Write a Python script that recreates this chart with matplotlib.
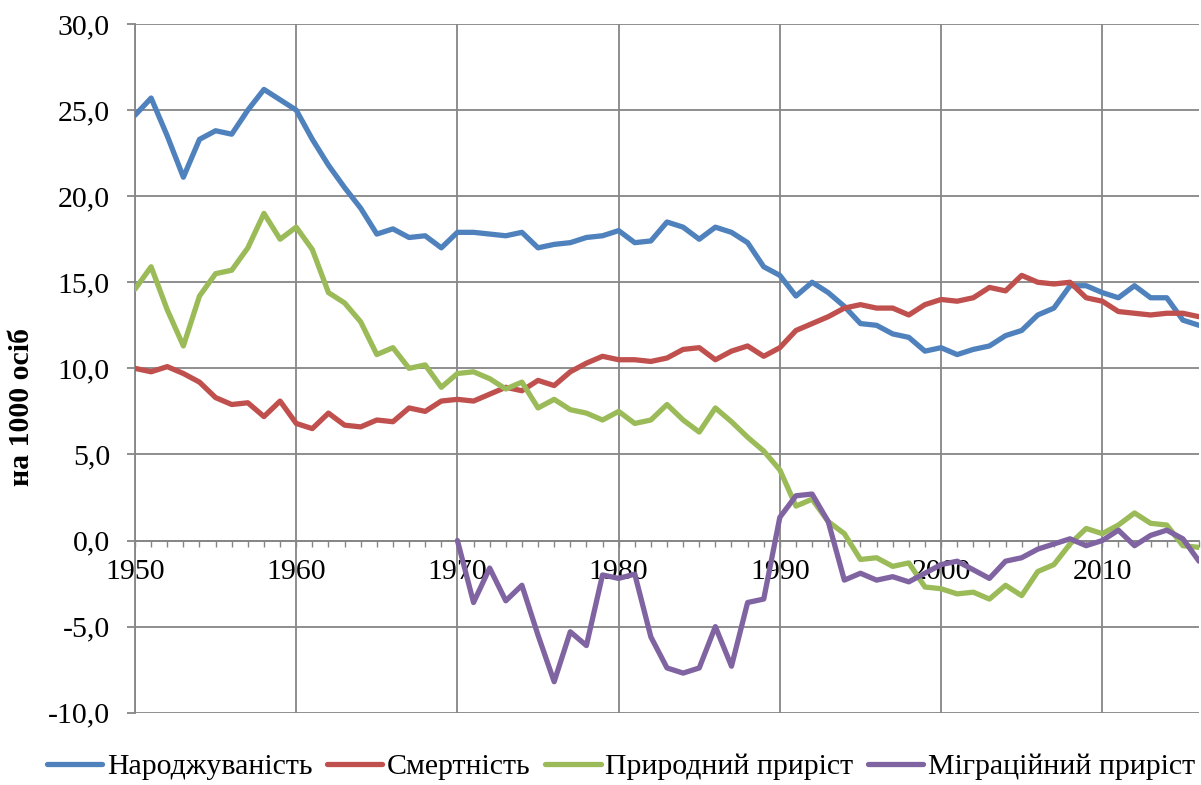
import numpy as np
import matplotlib
matplotlib.use('Agg')
import matplotlib.pyplot as plt
from matplotlib.ticker import MultipleLocator, FuncFormatter

# ── Data (per 1000 population) ─────────────────────────────────────
years = list(range(1950, 2017))

birth = [24.7, 25.7, 23.5, 21.1, 23.3, 23.8, 23.6, 25.0, 26.2, 25.6,
         25.0, 23.3, 21.8, 20.5, 19.3, 17.8, 18.1, 17.6, 17.7, 17.0,
         17.9, 17.9, 17.8, 17.7, 17.9, 17.0, 17.2, 17.3, 17.6, 17.7,
         18.0, 17.3, 17.4, 18.5, 18.2, 17.5, 18.2, 17.9, 17.3, 15.9,
         15.4, 14.2, 15.0, 14.4, 13.6, 12.6, 12.5, 12.0, 11.8, 11.0,
         11.2, 10.8, 11.1, 11.3, 11.9, 12.2, 13.1, 13.5, 14.8, 14.8,
         14.4, 14.1, 14.8, 14.1, 14.1, 12.8, 12.5]

death = [10.0, 9.8, 10.1, 9.7, 9.2, 8.3, 7.9, 8.0, 7.2, 8.1,
         6.8, 6.5, 7.4, 6.7, 6.6, 7.0, 6.9, 7.7, 7.5, 8.1,
         8.2, 8.1, 8.5, 8.9, 8.7, 9.3, 9.0, 9.8, 10.3, 10.7,
         10.5, 10.5, 10.4, 10.6, 11.1, 11.2, 10.5, 11.0, 11.3, 10.7,
         11.2, 12.2, 12.6, 13.0, 13.5, 13.7, 13.5, 13.5, 13.1, 13.7,
         14.0, 13.9, 14.1, 14.7, 14.5, 15.4, 15.0, 14.9, 15.0, 14.1,
         13.9, 13.3, 13.2, 13.1, 13.2, 13.2, 13.0]

natural = [14.6, 15.9, 13.4, 11.3, 14.2, 15.5, 15.7, 17.0, 19.0, 17.5,
           18.2, 16.9, 14.4, 13.8, 12.7, 10.8, 11.2, 10.0, 10.2, 8.9,
           9.7, 9.8, 9.4, 8.8, 9.2, 7.7, 8.2, 7.6, 7.4, 7.0,
           7.5, 6.8, 7.0, 7.9, 7.0, 6.3, 7.7, 6.9, 6.0, 5.2,
           4.1, 2.0, 2.4, 1.1, 0.4, -1.1, -1.0, -1.5, -1.3, -2.7,
           -2.8, -3.1, -3.0, -3.4, -2.6, -3.2, -1.8, -1.4, -0.2, 0.7,
           0.4, 0.9, 1.6, 1.0, 0.9, -0.3, -0.4]

# migration data only from 1970
migration = [np.nan] * 20 + [
    0.0, -3.6, -1.6, -3.5, -2.6, -5.5, -8.2, -5.3, -6.1, -2.0,
    -2.2, -1.95, -5.6, -7.4, -7.7, -7.4, -5.0, -7.3, -3.6, -3.4,
    1.35, 2.6, 2.7, 1.1, -2.3, -1.9, -2.3, -2.1, -2.4, -1.9,
    -1.4, -1.2, -1.7, -2.2, -1.2, -1.0, -0.5, -0.2, 0.1, -0.3,
    0.0, 0.6, -0.3, 0.3, 0.6, 0.1, -1.2]

series = [
    ('Народжуваність', birth, '#4F81BD'),
    ('Смертність', death, '#C0504D'),
    ('Природний приріст', natural, '#9BBB59'),
    ('Міграційний приріст', migration, '#8064A2'),
]

# ── Figure ─────────────────────────────────────────────────────────
plt.rcParams['font.family'] = ['Liberation Serif', 'DejaVu Serif']
W, H = 1201, 785
fig = plt.figure(figsize=(W / 100, H / 100), dpi=100)
ax = fig.add_axes([135 / W, 1 - 712.7 / H, (1199 - 135) / W, (712.7 - 24) / H])

grid_c = '#868686'
for name, vals, color in series:
    ax.plot(years, vals, color=color, lw=3.8, label=name,
            solid_joinstyle='round', solid_capstyle='round', zorder=3)

ax.set_xlim(1950, 2016)
ax.set_ylim(-10, 30)
ax.yaxis.set_major_locator(MultipleLocator(5))
ax.yaxis.set_major_formatter(FuncFormatter(lambda v, p: f'{v:.1f}'.replace('.', ',')))
ax.xaxis.set_major_locator(MultipleLocator(10))
ax.xaxis.set_minor_locator(MultipleLocator(1))

ax.grid(True, which='major', color=grid_c, lw=1.3, zorder=1)
for s in ['top', 'right']:
    ax.spines[s].set_visible(False)
ax.spines['bottom'].set_position(('data', 0))
ax.spines['bottom'].set_color(grid_c)
ax.spines['left'].set_color(grid_c)
ax.spines['bottom'].set_linewidth(1.3)
ax.spines['left'].set_linewidth(1.3)

ax.tick_params(axis='y', which='major', length=6, width=1.3, color=grid_c,
               direction='out', pad=12, labelsize=21.5)
ax.tick_params(axis='x', which='both', length=4, width=1.0, color=grid_c,
               direction='out', pad=9, labelsize=21.5)

fig.text(22 / W, 1 - 407 / H, 'на 1000 осіб', rotation=90, fontsize=21.5,
         fontweight='bold', ha='center', va='center')

fig.legend(loc='center', bbox_to_anchor=(621 / W, 1 - 767 / H), ncol=4,
           frameon=False, fontsize=21.5, handlelength=1.85, handletextpad=0.15,
           columnspacing=0.5, borderaxespad=0)

fig.savefig('out.png', dpi=100)
